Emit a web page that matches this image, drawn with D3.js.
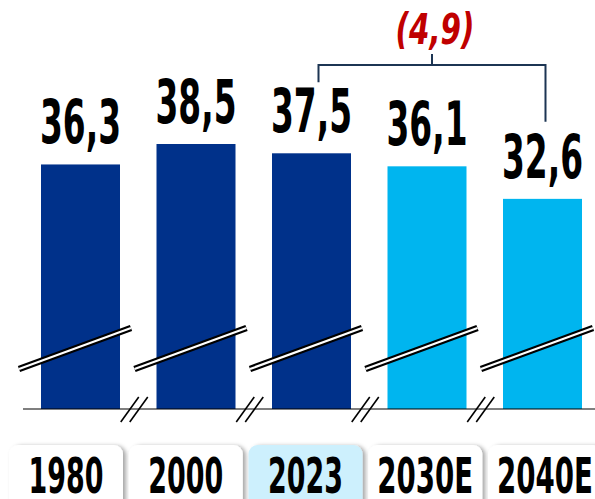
<!DOCTYPE html>
<html>
<head>
<meta charset="utf-8">
<script src="https://cdn.jsdelivr.net/npm/d3@7"></script>
<style>
  body { margin: 0; background: #ffffff; }
  svg { display: block; }
</style>
</head>
<body>
<div id="chart"></div>
<script>
// Data.
const years = ["1980", "2000", "2023", "2030E", "2040E"];
const values = [36.3, 38.5, 37.5, 36.1, 32.6];
const forecast = [false, false, false, true, true];
const highlightYear = "2023";
const bracketFrom = "2023";
const bracketTo = "2040E";

const width = 595, height = 499;
const fmt = v => d3.format(".1f")(v).replace(".", ",");

const svg = d3.select("#chart")
  .append("svg")
  .attr("width", width)
  .attr("height", height)
  .attr("viewBox", [0, 0, width, height]);

// Drop shadow for the year boxes.
svg.append("defs").append("filter")
  .attr("id", "shadow")
  .attr("x", "-10%").attr("y", "-10%")
  .attr("width", "130%").attr("height", "130%")
  .append("feDropShadow")
  .attr("dx", 3).attr("dy", 1)
  .attr("stdDeviation", 2)
  .attr("flood-color", "#000000")
  .attr("flood-opacity", 0.35);

// Scales: the value axis is broken, so it starts near 10.
const x = d3.scaleBand()
  .domain(years)
  .range([41, 582])
  .paddingInner(0.316)
  .paddingOuter(0);
const y = d3.scaleLinear()
  .domain([10, 38.5])
  .range([409, 144]);
const xBox = d3.scaleBand()
  .domain(years)
  .range([9, 602])
  .paddingInner(0.048)
  .paddingOuter(0);

const bw = x.bandwidth();
const font = "'Liberation Sans Narrow', 'DejaVu Sans Condensed', 'Roboto Condensed', sans-serif";

// Squeeze a text horizontally so it is as wide as the reference glyphs.
function fitText(sel, cx, cy, targetWidth) {
  sel.each(function(d, i) {
    const t = d3.select(this);
    const w = this.getComputedTextLength();
    const k = (typeof targetWidth === "function" ? targetWidth(d, i) : targetWidth) / w;
    const px = typeof cx === "function" ? cx(d, i) : cx;
    const py = typeof cy === "function" ? cy(d, i) : cy;
    t.attr("transform", `translate(${px},${py}) scale(${k},1)`);
  });
}

// Bars.
svg.selectAll(".bar")
  .data(years)
  .join("rect")
  .attr("class", "bar")
  .attr("x", d => x(d))
  .attr("y", (d, i) => y(values[i]))
  .attr("width", bw)
  .attr("height", (d, i) => y.range()[0] - y(values[i]))
  .attr("fill", (d, i) => forecast[i] ? "#00b5ef" : "#00318a");

// Break marks across each bar: a black band with a white line inside.
const breakPath = d => `M${x(d) - 22},369L${x(d) + bw + 11},328`;
svg.selectAll(".breakOuter")
  .data(years)
  .join("path")
  .attr("class", "breakOuter")
  .attr("d", breakPath)
  .attr("stroke", "#000000")
  .attr("stroke-width", 6.5);
svg.selectAll(".breakInner")
  .data(years)
  .join("path")
  .attr("class", "breakInner")
  .attr("d", breakPath)
  .attr("stroke", "#ffffff")
  .attr("stroke-width", 2.2);

// Baseline.
svg.append("line")
  .attr("x1", 23).attr("x2", width)
  .attr("y1", y.range()[0]).attr("y2", y.range()[0])
  .attr("stroke", "#000000")
  .attr("stroke-width", 1.2);

// Axis break marks "//" between bars.
const gaps = years.slice(1).map((d, i) => (x(years[i]) + bw + x(d)) / 2 - 4);
gaps.forEach(cx => {
  [-4.5, 4.5].forEach(off => {
    svg.append("line")
      .attr("x1", cx + off - 9).attr("y1", 422)
      .attr("x2", cx + off + 9).attr("y2", 397)
      .attr("stroke", "#000000")
      .attr("stroke-width", 1.6);
  });
});

// Value labels above the bars.
svg.selectAll(".valueLabel")
  .data(years)
  .join("text")
  .attr("class", "valueLabel")
  .attr("text-anchor", "middle")
  .attr("font-family", font)
  .attr("font-weight", "bold")
  .attr("font-size", 60)
  .attr("fill", "#000000")
  .text((d, i) => fmt(values[i]))
  .call(fitText, d => x(d) + bw / 2, (d, i) => y(values[i]) - 21, 81);

// Bracket showing the change between 2023 and 2040E.
const i0 = years.indexOf(bracketFrom), i1 = years.indexOf(bracketTo);
const bx0 = x(bracketFrom) + bw / 2 + 7;
const bx1 = x(bracketTo) + bw / 2 + 3;
const by = 65;
const leftEnd = y(values[i0]) - 21 - 43 - 7;
const rightEnd = y(values[i1]) - 21 - 43 - 13;
svg.append("path")
  .attr("d", `M${bx0},${leftEnd}V${by}H${bx1}V${rightEnd}M${(bx0 + bx1) / 2},${by}V${by - 11}`)
  .attr("fill", "none")
  .attr("stroke", "#1c3553")
  .attr("stroke-width", 2);
svg.append("text")
  .attr("text-anchor", "middle")
  .attr("font-family", font)
  .attr("font-weight", "bold")
  .attr("font-style", "italic")
  .attr("font-size", 43)
  .attr("fill", "#c00000")
  .text(`(${fmt(values[i0] - values[i1])})`)
  .call(fitText, (bx0 + bx1) / 2 + 3, 44, 79);

// Year boxes with labels.
const boxes = svg.selectAll(".yearBox")
  .data(years)
  .join("g")
  .attr("class", "yearBox");
boxes.append("rect")
  .attr("x", d => xBox(d))
  .attr("y", 445)
  .attr("width", xBox.bandwidth())
  .attr("height", 70)
  .attr("rx", 9)
  .attr("fill", d => d === highlightYear ? "#cdf0fd" : "#ffffff")
  .attr("filter", "url(#shadow)");
boxes.append("text")
  .attr("text-anchor", "middle")
  .attr("font-family", font)
  .attr("font-weight", "bold")
  .attr("font-size", 49)
  .attr("fill", "#000000")
  .text(d => d)
  .call(fitText, d => xBox(d) + xBox.bandwidth() / 2, 493, d => d.length > 4 ? 96 : 75);
</script>
</body>
</html>
